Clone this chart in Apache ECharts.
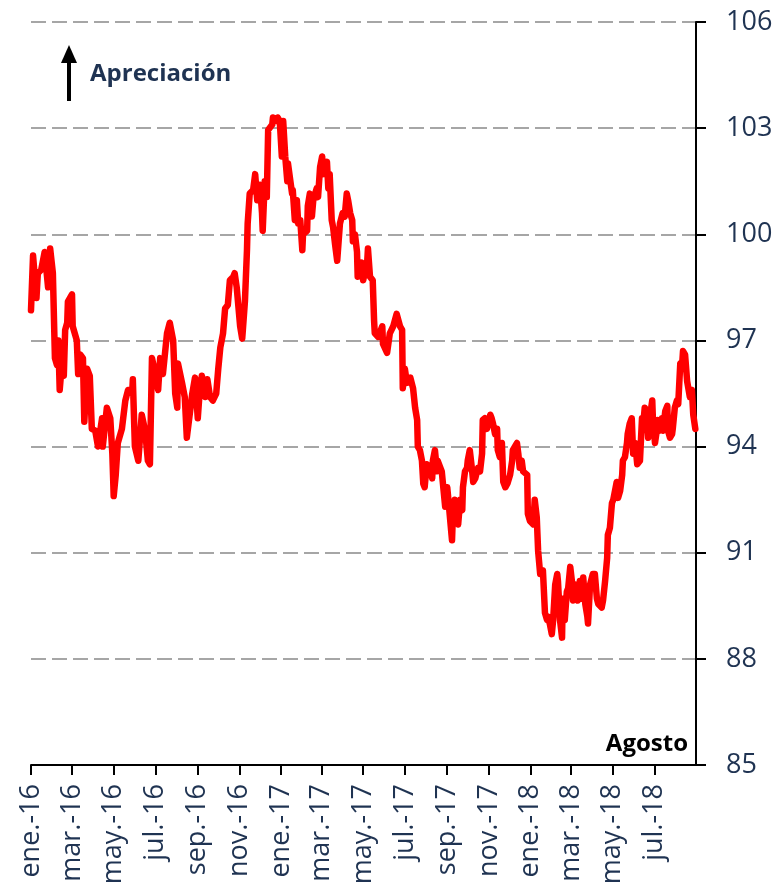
<!DOCTYPE html>
<html>
<head>
<meta charset="utf-8">
<script src="https://cdn.jsdelivr.net/npm/echarts@6/dist/echarts.min.js"></script>
<style>
  html, body { margin: 0; padding: 0; background: #fff; }
  #chart { width: 781px; height: 893px; }
</style>
</head>
<body>
<div id="chart"></div>
<script>
// eje: un día por categoría, de ene.-16 a fin de agosto 2018
const fechaInicio = Date.UTC(2016, 0, 1);
const fechaFin = Date.UTC(2018, 7, 31);
const meses = ["ene", "feb", "mar", "abr", "may", "jun", "jul", "ago", "sep", "oct", "nov", "dic"];

// valores del índice: [días desde 2016-01-01, valor]
const tcr = [
  [0, 97.85], [3, 99.4], [8, 98.2], [10, 98.9], [15, 99.0], [20, 99.5], [25, 98.5], [28, 99.6],
  [32, 98.9], [35, 96.5], [38, 96.3], [40, 97.0], [42, 95.6], [45, 96.3], [48, 96.0], [50, 97.3],
  [53, 97.5], [54, 98.1], [60, 98.3], [61, 97.4], [67, 97.0], [69, 96.05], [72, 96.6], [76, 96.5],
  [78, 94.7], [82, 96.2], [86, 96.0], [89, 94.5], [94, 94.45], [98, 94.0], [104, 94.8], [105, 94.0],
  [111, 95.1], [116, 94.8], [119, 93.8], [121, 92.6], [124, 93.2], [127, 94.1], [133, 94.5], [138, 95.3],
  [142, 95.6], [148, 95.5], [149, 95.9], [152, 94.0], [157, 93.6], [162, 94.9], [167, 94.45], [171, 93.6],
  [174, 93.5], [177, 96.5], [181, 96.15], [186, 95.6], [189, 96.5], [193, 96.05], [199, 97.2], [203, 97.5],
  [208, 97.0], [211, 95.5], [214, 95.1], [215, 96.35], [221, 95.8], [225, 95.4], [228, 94.25], [230, 94.2],
  [236, 95.5], [240, 95.95], [244, 94.8], [247, 95.6], [250, 96.0], [255, 95.4], [258, 95.9], [262, 95.4],
  [266, 95.3], [271, 95.5], [274, 96.2], [277, 96.8], [281, 97.2], [284, 97.9], [288, 98.0], [291, 98.7],
  [296, 98.8], [298, 98.9], [301, 98.5], [306, 97.4], [309, 97.05], [310, 97.3], [313, 98.1], [316, 99.55],
  [317, 100.3], [320, 101.15], [325, 101.25], [328, 101.7], [331, 100.96], [335, 101.4], [338, 100.6], [339, 100.1],
  [342, 101.5], [345, 101.05], [347, 102.95], [353, 103.1], [354, 103.3], [360, 103.2], [361, 103.3], [364, 103.2],
  [367, 102.2], [369, 103.2], [372, 102.2], [375, 101.5], [376, 102.0], [382, 101.15], [383, 101.25], [386, 100.4],
  [389, 100.96], [391, 100.3], [394, 100.4], [397, 99.55], [398, 100.0], [404, 100.1], [405, 100.8], [408, 101.15],
  [411, 100.5], [413, 100.96], [418, 101.3], [420, 101.05], [423, 101.9], [426, 102.2], [427, 101.7], [433, 102.05],
  [435, 101.3], [437, 101.7], [440, 100.4], [442, 100.2], [445, 99.7], [448, 99.25], [449, 99.2], [452, 100.3],
  [456, 100.6], [459, 100.5], [462, 101.15], [464, 100.96], [467, 100.6], [470, 100.4], [471, 99.8], [474, 100.0],
  [477, 99.5], [478, 98.8], [484, 99.2], [486, 98.7], [492, 99.25], [493, 99.6], [496, 98.8], [500, 98.7],
  [502, 97.55], [503, 97.2], [508, 97.1], [514, 97.4], [515, 96.9], [521, 96.65], [525, 97.2], [530, 97.4],
  [535, 97.75], [540, 97.4], [543, 97.3], [544, 95.65], [547, 96.2], [550, 95.8], [555, 95.95], [559, 95.65],
  [562, 95.1], [565, 94.75], [566, 94.0], [569, 93.9], [572, 93.6], [574, 92.95], [576, 92.85], [579, 93.5],
  [584, 93.4], [587, 93.1], [588, 93.6], [591, 93.9], [594, 93.3], [595, 93.6], [601, 93.3], [606, 92.3],
  [609, 92.85], [610, 92.65], [616, 91.35], [617, 91.9], [620, 92.5], [625, 91.8], [628, 92.5], [631, 92.2],
  [632, 92.85], [635, 93.3], [638, 93.4], [639, 93.6], [642, 93.9], [645, 93.4], [647, 93.0], [650, 93.1],
  [654, 93.4], [657, 93.3], [660, 93.8], [661, 94.75], [664, 94.8], [667, 94.5], [672, 94.9], [674, 94.8],
  [676, 94.65], [679, 94.35], [682, 94.5], [683, 93.9], [686, 93.7], [689, 94.1], [691, 93.0], [694, 92.85],
  [697, 92.95], [698, 93.0], [701, 93.2], [704, 93.6], [705, 93.9], [711, 94.1], [713, 93.8], [715, 93.4],
  [718, 93.6], [720, 93.3], [726, 93.2], [727, 92.1], [730, 91.9], [735, 91.8], [737, 92.5], [740, 92.0],
  [742, 91.05], [745, 90.4], [749, 90.5], [752, 89.3], [755, 89.1], [756, 89.2], [759, 89.0], [762, 88.7],
  [764, 89.1], [767, 90.1], [770, 90.4], [771, 90.2], [774, 89.1], [777, 88.6], [778, 89.7], [781, 89.1],
  [784, 89.9], [786, 90.0], [789, 90.6], [792, 90.1], [793, 89.65], [796, 90.1], [799, 90.0], [800, 89.65],
  [803, 90.2], [806, 89.7], [808, 90.3], [811, 89.55], [814, 89.2], [815, 89.0], [818, 90.1], [822, 90.4],
  [825, 90.4], [828, 89.7], [830, 89.55], [835, 89.45], [837, 89.65], [840, 90.2], [843, 90.85], [844, 91.5],
  [847, 91.7], [850, 92.4], [852, 92.5], [854, 92.55], [857, 93.0], [859, 92.55], [862, 92.75], [865, 93.2],
  [866, 93.6], [869, 93.7], [872, 94.1], [873, 94.35], [876, 94.65], [879, 94.8], [881, 93.8], [884, 94.1],
  [887, 93.5], [891, 93.6], [894, 94.8], [895, 94.45], [898, 95.1], [901, 95.0], [903, 94.25], [906, 94.9],
  [909, 95.3], [910, 94.75], [913, 94.1], [916, 94.5], [917, 94.75], [920, 94.45], [923, 94.8], [925, 94.45],
  [928, 95.0], [931, 95.15], [932, 94.45], [935, 94.25], [938, 94.35], [939, 94.5], [942, 95.1], [945, 95.3],
  [947, 95.2], [950, 96.35], [953, 96.4], [954, 96.7], [957, 96.6], [960, 95.85], [961, 95.8], [964, 95.4],
  [967, 95.6], [969, 94.9], [972, 94.5]
];

const yMin = 85;
const yMax = 106;
const yStep = 3;

const navy = "#1F3352";

// lista de fechas (categorías)
const fechas = [];
for (let t = fechaInicio; t <= fechaFin; t += 86400000) {
  fechas.push(new Date(t).toISOString().slice(0, 10));
}

// marcas cada dos meses, el día 1
const esMarca = (idx, val) => {
  const mes = Number(val.slice(5, 7));
  return val.slice(8, 10) === "01" && mes % 2 === 1;
};

const chart = echarts.init(document.getElementById("chart"), null, { renderer: "canvas" });

const option = {
  animation: false,
  backgroundColor: "#ffffff",
  grid: { left: 31, right: 85, top: 22, bottom: 128, containLabel: false },
  xAxis: {
    type: "category",
    data: fechas,
    boundaryGap: false,
    axisLine: { show: true, lineStyle: { color: "#000", width: 2 } },
    axisTick: { show: true, interval: esMarca, length: 10, lineStyle: { color: "#000", width: 2 } },
    axisLabel: {
      interval: esMarca,
      rotate: 90,
      margin: 19,
      color: navy,
      fontFamily: "Open Sans",
      fontSize: 27,
      hideOverlap: false,
      formatter: val => meses[Number(val.slice(5, 7)) - 1] + ".-" + val.slice(2, 4)
    },
    splitLine: { show: false }
  },
  yAxis: {
    type: "value",
    position: "right",
    min: yMin,
    max: yMax,
    interval: yStep,
    axisLine: { show: true, lineStyle: { color: "#000", width: 2 } },
    axisTick: { show: true, length: 10, lineStyle: { color: "#000", width: 2 } },
    axisLabel: { margin: 30, color: navy, fontFamily: "Open Sans", fontSize: 27 },
    splitLine: { show: true, lineStyle: { color: "#A6A6A6", width: 2, type: [15, 6] } }
  },
  series: [
    {
      type: "line",
      data: tcr,
      showSymbol: false,
      connectNulls: true,
      lineStyle: { color: "#FF0000", width: 6.5, cap: "round", join: "round" },
      z: 5
    }
  ],
  graphic: [
    // flecha de apreciación
    { type: "line", shape: { x1: 69, y1: 101, x2: 69, y2: 58 }, style: { stroke: "#000", lineWidth: 4 } },
    { type: "polygon", shape: { points: [[61, 63], [77, 63], [69, 45]] }, style: { fill: "#000" } },
    {
      type: "text", left: 90, top: 62,
      style: { text: "Apreciación", fill: navy, font: "bold 24px 'Open Sans'" }
    },
    {
      type: "text", right: 93, top: 732,
      style: { text: "Agosto", fill: "#000", font: "bold 24px 'Open Sans'" }
    }
  ]
};

chart.setOption(option);
</script>
</body>
</html>
